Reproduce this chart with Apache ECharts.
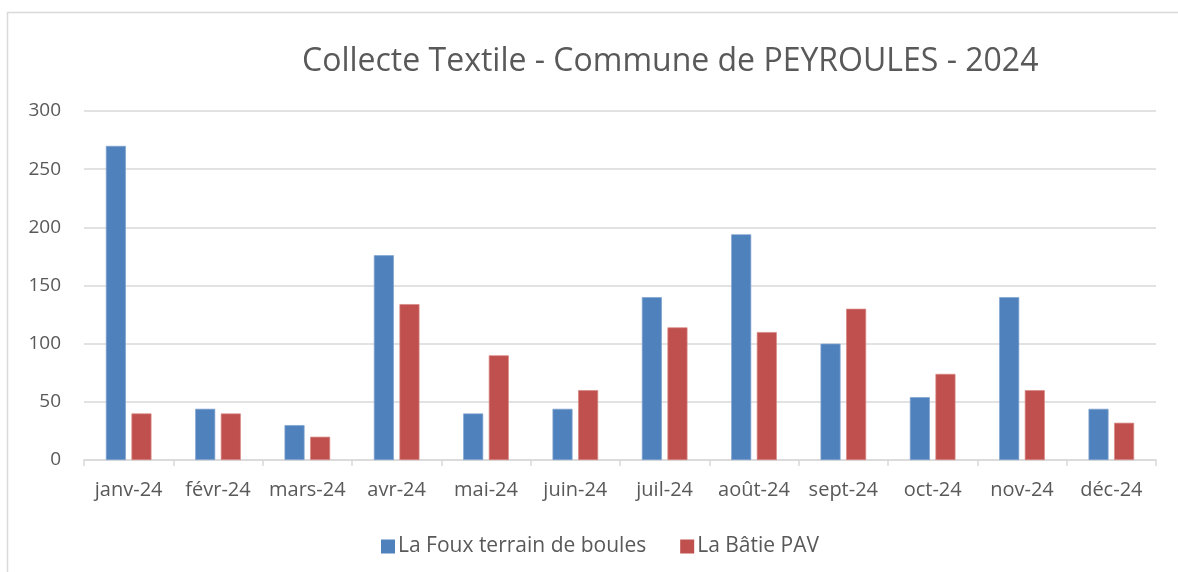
<!DOCTYPE html>
<html>
<head>
<meta charset="utf-8">
<script src="https://cdn.jsdelivr.net/npm/echarts@6/dist/echarts.min.js"></script>
<style>html,body{margin:0;padding:0;background:#fff}#c{width:1178px;height:572px}</style>
</head>
<body>
<div id="c"></div>
<script>
var categories = ['janv-24','févr-24','mars-24','avr-24','mai-24','juin-24','juil-24','août-24','sept-24','oct-24','nov-24','déc-24'];
var laFoux = [270,44,30,176,40,44,140,194,100,54,140,44];
var laBatie = [40,40,20,134,90,60,114,110,130,74,60,32];
var yTicks = [0,50,100,150,200,250,300];
var seriesNames = ['La Foux terrain de boules','La Bâtie PAV'];

var font = '"Open Sans", "Noto Sans", sans-serif';
var chart = echarts.init(document.getElementById('c'), null, {renderer:'canvas'});
chart.setOption({
  animation:false,
  backgroundColor:'#fff',
  textStyle:{fontFamily:font},
  graphic:[{type:'rect',shape:{x:7.5,y:12.5,width:1300,height:700},style:{fill:'none',stroke:'#d9d9d9',lineWidth:1.5},silent:true}],
  title:{text:'Collecte Textile - Commune de PEYROULES - 2024',left:297,top:41,
    textStyle:{fontFamily:font,fontSize:32,fontWeight:'normal',color:'#595959'}},
  legend:{bottom:10,left:376,itemWidth:14,itemHeight:14,itemGap:34,icon:'rect',
    itemStyle:{borderWidth:0},
    textStyle:{fontFamily:font,fontSize:21,color:'#595959',padding:[0,0,0,-2]}},
  grid:{left:84,right:22,top:111,bottom:112,containLabel:false},
  xAxis:{type:'category',data:categories,
    axisLine:{lineStyle:{color:'#d9d9d9',width:1.5}},
    axisTick:{show:true,length:6,lineStyle:{color:'#d9d9d9',width:1.5}},
    axisLabel:{fontFamily:font,fontSize:20,color:'#595959',margin:20,interval:0}},
  yAxis:{type:'value',min:0,max:300,interval:50,
    axisLine:{show:false},axisTick:{show:false},
    splitLine:{lineStyle:{color:'#d9d9d9',width:1.5}},
    axisLabel:{fontFamily:font,fontSize:19,color:'#595959',margin:23,
      formatter:function(v){return yTicks.indexOf(v)>=0?String(v):'';}}},
  series:[
    {name:seriesNames[0],type:'bar',data:laFoux,barWidth:20,barGap:'28%',
      itemStyle:{color:'#4f81bd',borderColor:'#7fa3d0',borderWidth:0.7}},
    {name:seriesNames[1],type:'bar',data:laBatie,barWidth:20,barGap:'28%',
      itemStyle:{color:'#c0504d',borderColor:'#d88683',borderWidth:0.7}}
  ]
});
</script>
</body>
</html>
